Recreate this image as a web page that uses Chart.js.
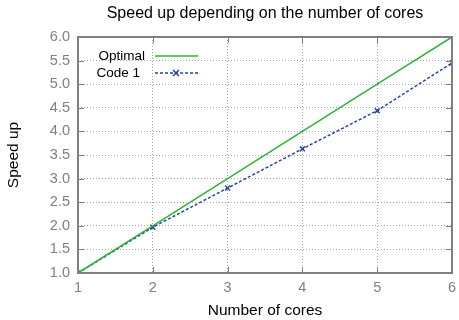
<!DOCTYPE html>
<html>
<head>
<meta charset="utf-8">
<script src="https://cdn.jsdelivr.net/npm/chart.js@4"></script>
<style>
  html, body { margin: 0; padding: 0; background: #fff; }
  #wrap { width: 459px; height: 320px; }
</style>
</head>
<body>
<div id="wrap"><canvas id="mychart"></canvas></div>
<script>
//DATA----------------------------------------------------------------
const cores = [1, 2, 3, 4, 5, 6];
const optimal = [1, 2, 3, 4, 5, 6];
const code1 = [1.0, 1.97, 2.8, 3.63, 4.44, 5.45];
const seriesNames = ["Optimal", "Code 1"];
//--------------------------------------------------------------------

const GREEN = "#2ab530";
const BLUE = "#2547a0";
const GREY = "#808080";
const FONT = "'Liberation Sans', Arial, sans-serif";

//frame, inward ticks and legend (gnuplot look)
const framePlugin = {
  id: "frame",
  afterDatasetsDraw(chart) {
    const { ctx, chartArea: a, scales } = chart;
    ctx.save();
    ctx.strokeStyle = GREY;
    ctx.lineWidth = 2;
    ctx.strokeRect(a.left, a.top, a.right - a.left, a.bottom - a.top);
    ctx.lineWidth = 1;
    ctx.beginPath();
    scales.x.ticks.forEach((t) => {
      const px = Math.round(scales.x.getPixelForValue(t.value)) + 0.5;
      ctx.moveTo(px, a.bottom); ctx.lineTo(px, a.bottom - 6);
      ctx.moveTo(px, a.top); ctx.lineTo(px, a.top + 6);
    });
    scales.y.ticks.forEach((t) => {
      const py = Math.round(scales.y.getPixelForValue(t.value)) + 0.5;
      ctx.moveTo(a.left, py); ctx.lineTo(a.left + 6, py);
      ctx.moveTo(a.right, py); ctx.lineTo(a.right - 6, py);
    });
    ctx.stroke();

    //legend
    ctx.font = "13.5px " + FONT;
    ctx.fillStyle = "#000";
    ctx.textAlign = "right";
    ctx.textBaseline = "middle";
    const rows = [56, 73];
    ctx.fillText(seriesNames[0], 145, rows[0]);
    ctx.fillText(seriesNames[1], 140, rows[1]);
    ctx.lineWidth = 1.5;
    ctx.strokeStyle = GREEN;
    ctx.beginPath(); ctx.moveTo(155, rows[0]); ctx.lineTo(198, rows[0]); ctx.stroke();
    ctx.strokeStyle = BLUE;
    ctx.setLineDash([3, 2]);
    ctx.beginPath(); ctx.moveTo(155, rows[1]); ctx.lineTo(198, rows[1]); ctx.stroke();
    ctx.setLineDash([]);
    ctx.beginPath();
    ctx.moveTo(173, rows[1] - 3); ctx.lineTo(179, rows[1] + 3);
    ctx.moveTo(179, rows[1] - 3); ctx.lineTo(173, rows[1] + 3);
    ctx.stroke();
    ctx.restore();
  }
};

function speedChart() {
  const data = {
    labels: cores,
    datasets: [
      {
        label: seriesNames[0],
        data: cores.map((c, i) => ({ x: c, y: optimal[i] })),
        borderColor: GREEN,
        borderWidth: 1.5,
        pointRadius: 0,
        fill: false,
      },
      {
        label: seriesNames[1],
        data: cores.map((c, i) => ({ x: c, y: code1[i] })),
        borderColor: BLUE,
        backgroundColor: BLUE,
        borderWidth: 1.5,
        borderDash: [3, 2],
        pointStyle: "crossRot",
        pointRadius: 3.5,
        pointBorderWidth: 1.5,
        fill: false,
      },
    ],
  };

  const tickFont = { family: FONT, size: 14.5 };

  const config = {
    type: "line",
    data: data,
    plugins: [framePlugin],
    options: {
      responsive: true,
      maintainAspectRatio: false,
      animation: false,
      layout: { padding: { left: 0, right: 7, top: 0, bottom: 0 } },
      plugins: {
        legend: { display: false },
        tooltip: { enabled: false },
        title: {
          display: true,
          fullSize: false,
          text: "Speed up depending on the number of cores",
          color: "#000",
          font: { family: FONT, size: 16, weight: "normal", lineHeight: 1.2 },
          padding: { top: 3.5, bottom: 14.3 },
        },
      },
      scales: {
        x: {
          type: "linear",
          min: 1,
          max: 6,
          ticks: { stepSize: 1, color: GREY, font: tickFont, padding: 6 },
          grid: { color: "#a8a8a8", lineWidth: 1, drawTicks: false },
          border: { display: false, dash: [1, 2] },
          title: {
            display: true,
            text: "Number of cores",
            color: "#000",
            font: { family: FONT, size: 15.5 },
            padding: { top: 3, bottom: 0 },
          },
          afterFit(scale) {
            scale.height = 47;
            scale.paddingRight = 0;
            scale.paddingLeft = 0;
          },
        },
        y: {
          min: 1,
          max: 6,
          ticks: {
            stepSize: 0.5,
            color: GREY,
            font: tickFont,
            padding: 8,
            callback: (v) => v.toFixed(1),
          },
          grid: { color: "#a8a8a8", lineWidth: 1, drawTicks: false },
          border: { display: false, dash: [1, 2] },
          title: {
            display: true,
            text: "Speed up",
            color: "#000",
            font: { family: FONT, size: 15.5 },
            padding: { top: 4, bottom: 4 },
          },
          afterFit(scale) { scale.width = 78; },
        },
      },
    },
  };

  return new Chart(document.getElementById("mychart"), config);
}

const chart = speedChart();
</script>
</body>
</html>
